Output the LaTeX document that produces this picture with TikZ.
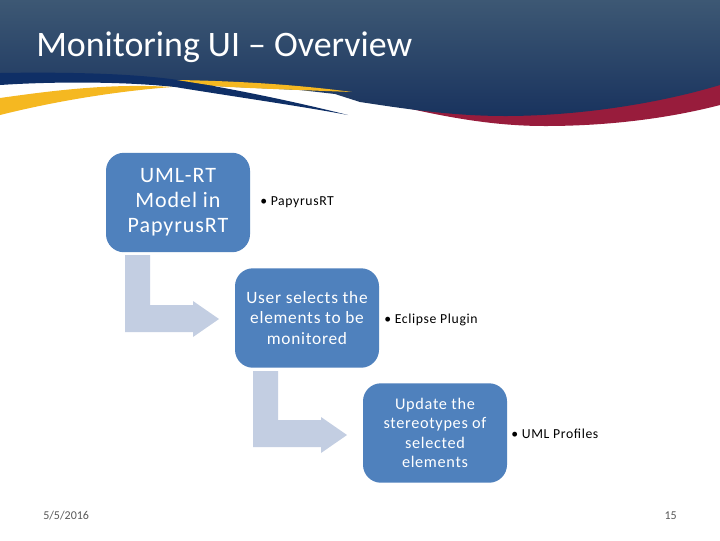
\documentclass[tikz,border=0pt]{standalone}
\usepackage{fontspec}
\setmainfont{Carlito}
\newfontfamily\spaced[LetterSpace=4.2]{Carlito}
\newfontfamily\spacedb[LetterSpace=4.5]{Carlito}
\definecolor{hdtop}{HTML}{3D5874}
\definecolor{hdbot}{HTML}{19335E}
\definecolor{navy}{HTML}{0F2F66}
\definecolor{goldc}{HTML}{F5B821}
\definecolor{burg}{HTML}{981C3C}
\definecolor{boxc}{HTML}{4F81BD}
\definecolor{arrowc}{HTML}{C3CEE2}
\definecolor{grayt}{HTML}{595959}
\tikzset{
  x=0.75pt,y=-0.75pt,
  flowbox/.style={draw=none,fill=boxc,rounded corners=13.5pt,minimum width=108pt,minimum height=74.6pt,inner sep=0pt,text=white,align=center},
  blockarrow/.style={fill=arrowc,draw=none},
  bullettext/.style={anchor=west,inner sep=0pt,text=black,font=\spacedb\fontsize{10.3}{12}\selectfont},
  footer/.style={inner sep=0pt,text=grayt,font=\fontsize{9}{11}\selectfont}
}
\begin{document}
\begin{tikzpicture}
\useasboundingbox[fill=white] (0,0) rectangle (720,540);
% burgundy crescent
\fill[burg] (385,103) .. controls (440,116) and (490,126) .. (545,126) .. controls (610,126) and (670,118) .. (720,105) -- (720,80) -- (600,90) -- cycle;
% header
\path[top color=hdtop,bottom color=hdbot,shading=axis] (0,0) -- (720,0) -- (720,85) .. controls (650,106) and (570,116) .. (505,116) .. controls (450,116) and (400,108) .. (360,102) -- (335,94) -- (300,90) -- (215,86) -- (215,90) -- (100,80) -- (0,78) -- cycle;
% navy band
\fill[navy] (0,73) .. controls (60,72) and (130,73) .. (178,80) .. controls (240,90) and (300,103) .. (348,115) .. controls (300,106) and (230,96) .. (175,87) .. controls (130,82) and (60,81) .. (0,85) -- cycle;
% gold swooshes
\fill[goldc] (0,98) .. controls (50,91) and (110,83) .. (172,87) .. controls (120,91) and (60,100) .. (0,115) -- cycle;
\fill[goldc] (177,80) .. controls (240,81) and (300,85) .. (352,92) .. controls (300,90) and (240,88) .. (215,86) -- cycle;
% block arrows
\fill[blockarrow] (125,255) -- (150,255) -- (150,305) -- (193,305) -- (193,301) -- (219,319) -- (193,337) -- (193,332) -- (125,332) -- cycle;
\fill[blockarrow] (253,371) -- (278,371) -- (278,420) -- (321,420) -- (321,417) -- (347,435) -- (321,453) -- (321,447) -- (253,447) -- cycle;
% boxes
\node[flowbox,font=\spaced\fontsize{16.5}{18.8}\selectfont] (b1) at (178,202.5) {\raisebox{-2pt}{\begin{tabular}{@{}c@{}}UML-RT\\Model in\\PapyrusRT\end{tabular}}};
\node[flowbox,font=\spaced\fontsize{13}{15.4}\selectfont] (b2) at (307,318) {User selects the\\elements to be\\monitored};
\node[flowbox,font=\spaced\fontsize{12.2}{14.5}\selectfont] (b3) at (435,433) {Update the\\stereotypes of\\selected\\elements};
% bullets
\node[bullettext] (t1) at (260,202.5) {• PapyrusRT};
\node[bullettext] (t2) at (384,320) {• Eclipse Plugin};
\node[bullettext] (t3) at (511,434) {• UML Profiles};
% title and footer
\node[anchor=west,inner sep=0pt,text=white,font=\fontsize{26.9}{32}\selectfont] (title) at (36,47.5) {Monitoring UI – Overview};
\node[footer,anchor=west] (date) at (43,516) {5/5/2016};
\node[footer,anchor=east] (num) at (677,516) {15};
\end{tikzpicture}
\end{document}
